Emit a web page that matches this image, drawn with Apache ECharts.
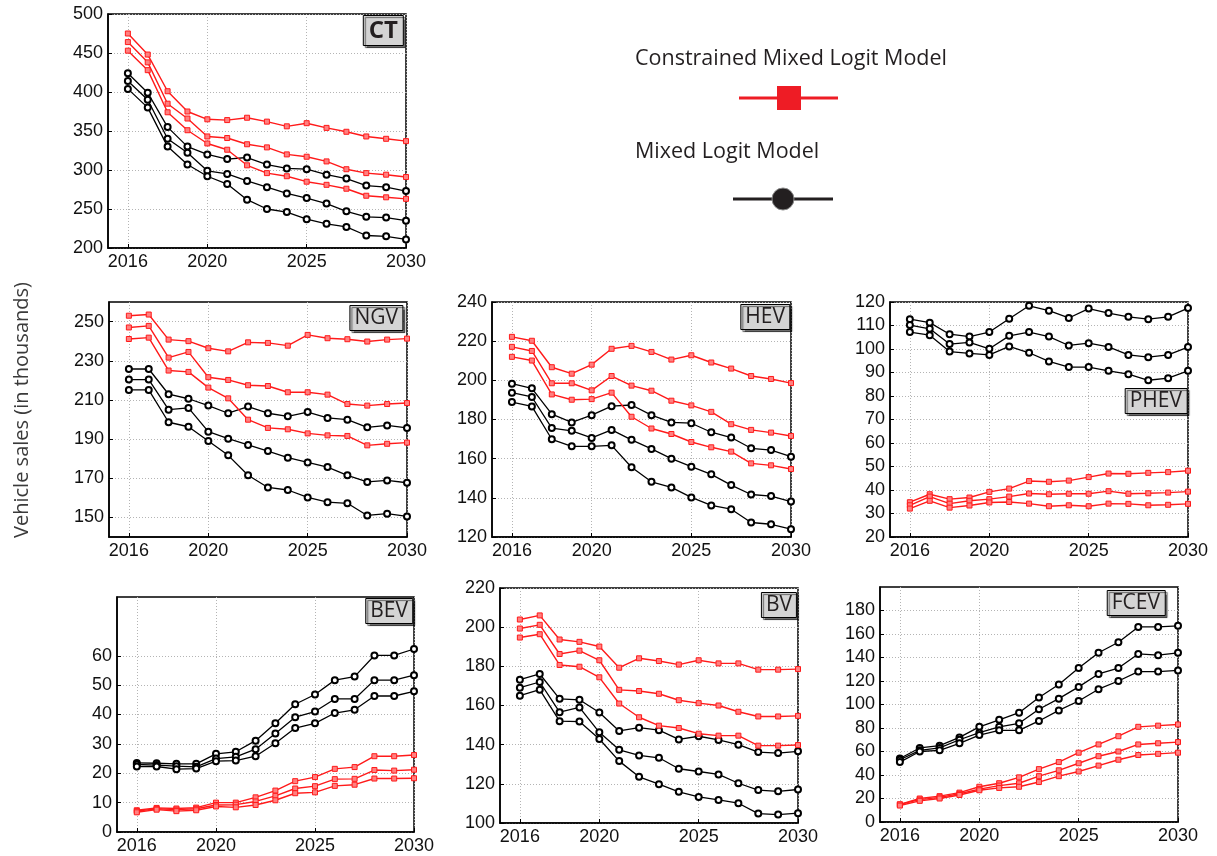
<!DOCTYPE html>
<html>
<head>
<meta charset="utf-8">
<title>Vehicle sales projections</title>
<script src="https://cdn.jsdelivr.net/npm/echarts@6/dist/echarts.min.js"></script>
<style>
  html, body { margin: 0; padding: 0; background: #ffffff; }
  #chart { width: 1217px; height: 856px; }
</style>
</head>
<body>
<div id="chart"></div>
<script>
// ---- data (thousands of vehicles) ----
const YEARS = [2016, 2017, 2018, 2019, 2020, 2021, 2022, 2023, 2024, 2025, 2026, 2027, 2028, 2029, 2030];
const YEAR_TICKS = [2016, 2020, 2025, 2030];

// Constrained Mixed Logit Model (red) and Mixed Logit Model (black), three runs each
const CT_CONSTRAINED = [
  [475, 448, 401, 375, 365, 364, 367, 362, 356, 360, 354, 349, 343, 340, 337],
  [464, 438, 385, 366, 343, 341, 333, 329, 320, 317, 311, 301, 296, 294, 291],
  [453, 428, 374, 351, 334, 326, 306, 296, 292, 285, 281, 276, 267, 265, 263]
];
const CT_MIXED = [
  [424, 399, 355, 330, 320, 314, 316, 307, 302, 301, 294, 289, 280, 278, 273],
  [414, 390, 340, 322, 299, 295, 286, 278, 270, 264, 257, 247, 240, 239, 235],
  [404, 380, 330, 307, 292, 282, 262, 250, 246, 237, 231, 227, 216, 215, 211]
];
const CT_TICKS = [200, 250, 300, 350, 400, 450, 500];

const NGV_CONSTRAINED = [
  [253, 253.6, 240.8, 240, 236.4, 234.8, 239.4, 239.1, 237.7, 243.2, 241.5, 241, 239.8, 240.8, 241.3],
  [247, 247.8, 231.6, 234.5, 221.6, 220.2, 217.5, 217.1, 213.9, 213.9, 212.7, 207.9, 207.1, 207.9, 208.4],
  [241.1, 241.8, 225, 224.3, 216.3, 210.8, 199.9, 195.7, 195, 192.9, 191.9, 191.6, 186.8, 187.6, 188.2]
];
const NGV_MIXED = [
  [225.8, 225.8, 212.9, 210.6, 207.1, 203.2, 206.6, 203.2, 201.6, 203.8, 200.8, 199.9, 196, 197, 195.7],
  [220.4, 220.4, 205, 205.9, 193.8, 190.2, 187, 183.9, 180.5, 178.1, 175.7, 171.5, 168.1, 168.9, 167.7],
  [215.1, 215.1, 198.6, 196.3, 189, 181.7, 171.5, 165.3, 164, 160.2, 157.8, 157.2, 151, 151.9, 150.5]
];
const NGV_TICKS = [150, 170, 190, 210, 230, 250];

const HEV_CONSTRAINED = [
  [222.2, 220.2, 206.7, 203.4, 208, 216.1, 217.6, 214.5, 210.6, 212.8, 209.1, 206, 202.2, 200.7, 198.6],
  [217.1, 215, 198.5, 198.5, 194.9, 202.2, 197.3, 194.7, 189.6, 187.2, 183.9, 177.6, 174.7, 173.3, 171.6],
  [212, 210.1, 192.8, 190.1, 190.4, 193.7, 181.4, 175.4, 172.6, 168.5, 165.8, 163.6, 157.6, 156.6, 154.7]
];
const HEV_MIXED = [
  [198.3, 195.9, 182.7, 178.5, 182.2, 186.8, 187.4, 182.2, 178.5, 178.1, 173.5, 170.8, 165.3, 164.4, 161],
  [193.7, 191.5, 175.6, 174.2, 170.6, 174.7, 169.6, 165, 160, 155.9, 152, 146.5, 141.7, 140.9, 138.1],
  [188.9, 186.7, 169.9, 166.3, 166.3, 166.8, 155.6, 148.2, 145.3, 140.2, 136.1, 134.2, 127.4, 126.5, 124]
];
const HEV_TICKS = [120, 140, 160, 180, 200, 220, 240];

const PHEV_CONSTRAINED = [
  [34.8, 38.2, 36.1, 36.8, 39.2, 40.6, 43.8, 43.5, 44, 45.5, 47, 46.9, 47.3, 47.6, 48.2],
  [33.5, 37.2, 34.2, 35.4, 36.1, 37.2, 38.5, 38.2, 38.4, 38.4, 39.5, 38.4, 38.6, 38.9, 39.3],
  [32.1, 35.4, 32.5, 33.4, 34.7, 34.9, 34.2, 33.1, 33.5, 33.1, 34.2, 34.1, 33.5, 33.7, 34.1]
];
const PHEV_MIXED = [
  [112.7, 111.2, 106.3, 105.3, 107.2, 112.9, 118.4, 116.3, 113.2, 117.2, 115.3, 113.7, 112.7, 113.7, 117.4],
  [110.2, 108.6, 102.1, 102.8, 100.1, 105.6, 107.2, 105.3, 101.5, 102.5, 100.9, 97.5, 96.5, 97.5, 100.8],
  [107.2, 105.9, 98.9, 98.1, 97.5, 101.1, 98.4, 94.7, 92.3, 92.3, 90.7, 89.3, 86.7, 87.6, 90.7]
];
const PHEV_TICKS = [20, 30, 40, 50, 60, 70, 80, 90, 100, 110, 120];

const BEV_CONSTRAINED = [
  [7.4, 8.2, 8, 8.3, 10, 10, 11.8, 14.1, 17.3, 18.7, 21.5, 22.1, 25.8, 25.8, 26.2],
  [7.1, 7.9, 7.6, 7.9, 9.2, 9.3, 10.4, 12.3, 14.8, 15.6, 18, 18.1, 21.1, 20.9, 21.2],
  [6.7, 7.6, 7.1, 7.4, 8.7, 8.4, 9.2, 10.8, 13.2, 13.5, 15.7, 16.1, 18.2, 18.2, 18.3]
];
const BEV_MIXED = [
  [23.5, 23.4, 23.2, 23.2, 26.6, 27.3, 31.1, 37, 43.5, 46.8, 51.7, 52.9, 60.1, 60.1, 62.3],
  [23, 22.8, 22.4, 22.2, 25, 25.6, 28.2, 33.5, 39.1, 41, 45.3, 45.3, 51.7, 51.7, 53.4],
  [22.3, 22.3, 21.4, 21.6, 24.1, 24.3, 25.8, 30.2, 35.4, 37, 40.5, 41.6, 46.3, 46.3, 47.9]
];
const BEV_TICKS = [0, 10, 20, 30, 40, 50, 60];

const BV_CONSTRAINED = [
  [203.9, 206, 193.7, 192.5, 190.1, 179.3, 184.1, 182.7, 180.9, 183.1, 181.5, 181.5, 178.3, 178.3, 178.6],
  [199.3, 201.2, 186.3, 188, 183.1, 168, 167.4, 166, 162.7, 161.2, 160, 156.8, 154.4, 154.4, 154.7],
  [194.7, 196.4, 180.7, 179.8, 174.4, 161, 154, 149.7, 148.5, 145.6, 144.6, 144.6, 139.5, 139.5, 139.8]
];
const BV_MIXED = [
  [173.2, 176.1, 163.4, 162.9, 156.4, 147, 148.7, 147.4, 142.7, 144.3, 142.4, 140, 136.2, 135.7, 136.6],
  [169.1, 172, 156.6, 159, 146.3, 137.4, 134.5, 133.3, 127.7, 126.3, 124.8, 120.3, 116.8, 116.2, 117.1],
  [165, 168.1, 152, 151.8, 142.9, 131.6, 123.6, 119.8, 115.9, 113.3, 111.8, 110.1, 104.8, 104.3, 105]
];
const BV_TICKS = [100, 120, 140, 160, 180, 200, 220];

const FCEV_CONSTRAINED = [
  [15, 20, 22, 25, 30, 33, 38, 45, 51, 59, 66, 73, 81, 82, 83],
  [15, 19, 21, 24, 28, 31, 33, 39, 44, 50, 56, 60, 66, 67, 68],
  [14, 18, 20, 23, 27, 29, 30, 34, 39, 43, 48, 53, 57, 58, 59]
];
const FCEV_MIXED = [
  [54, 63, 65, 72, 81, 87, 93, 106, 117, 131, 144, 153, 166, 166, 167],
  [53, 61, 63, 70, 76, 81, 84, 96, 105, 115, 126, 131, 143, 142, 144],
  [51, 60, 61, 67, 74, 78, 78, 86, 95, 103, 113, 120, 128, 128, 129]
];
const FCEV_TICKS = [0, 20, 40, 60, 80, 100, 120, 140, 160, 180];

const SERIES_NAMES = ['Constrained Mixed Logit Model', 'Mixed Logit Model'];
const Y_AXIS_TITLE = 'Vehicle sales (in thousands)';

const PANELS = [
  { key: 'CT',   constrained: CT_CONSTRAINED,   mixed: CT_MIXED,   ticks: CT_TICKS,   yMin: 200, yMax: 500 },
  { key: 'NGV',  constrained: NGV_CONSTRAINED,  mixed: NGV_MIXED,  ticks: NGV_TICKS,  yMin: 140, yMax: 260 },
  { key: 'HEV',  constrained: HEV_CONSTRAINED,  mixed: HEV_MIXED,  ticks: HEV_TICKS,  yMin: 120, yMax: 240 },
  { key: 'PHEV', constrained: PHEV_CONSTRAINED, mixed: PHEV_MIXED, ticks: PHEV_TICKS, yMin: 20,  yMax: 120 },
  { key: 'BEV',  constrained: BEV_CONSTRAINED,  mixed: BEV_MIXED,  ticks: BEV_TICKS,  yMin: 0,   yMax: 80 },
  { key: 'BV',   constrained: BV_CONSTRAINED,   mixed: BV_MIXED,   ticks: BV_TICKS,   yMin: 100, yMax: 220 },
  { key: 'FCEV', constrained: FCEV_CONSTRAINED, mixed: FCEV_MIXED, ticks: FCEV_TICKS, yMin: 0,   yMax: 200 }
];

// ---- layout (pixels) ----
const LAYOUT = {
  CT:   { left: 108, top: 14,  width: 298, height: 234, tagRight: 404,  tagTop: 15,  bold: true },
  NGV:  { left: 109, top: 302, width: 298, height: 235, tagRight: 403,  tagTop: 305 },
  HEV:  { left: 492, top: 302, width: 299, height: 235, tagRight: 790,  tagTop: 304 },
  PHEV: { left: 890, top: 302, width: 298, height: 235, tagRight: 1187, tagTop: 388 },
  BEV:  { left: 117, top: 597, width: 297, height: 235, tagRight: 413,  tagTop: 598 },
  BV:   { left: 500, top: 588, width: 298, height: 235, tagRight: 797,  tagTop: 592 },
  FCEV: { left: 880, top: 587, width: 298, height: 235, tagRight: 1165, tagTop: 590 }
};

const RED = '#ff1a1a';
const BLACK = '#000000';
const CHART_W = 1217;

const grids = [], xAxes = [], yAxes = [], titles = [], series = [];

PANELS.forEach((p, i) => {
  const g = LAYOUT[p.key];
  grids.push({
    left: g.left, top: g.top, width: g.width, height: g.height,
    show: true, borderColor: '#000', borderWidth: 1.5, backgroundColor: '#fff'
  });
  xAxes.push({
    type: 'value', gridIndex: i, min: 2015, max: 2030,
    axisLine: { show: true, onZero: false, lineStyle: { color: '#000', width: 1.5 } },
    axisTick: { show: true, inside: true, length: 4, customValues: YEAR_TICKS, lineStyle: { color: '#000' } },
    axisLabel: {
      customValues: YEAR_TICKS, color: '#111', fontFamily: 'Liberation Sans, Arial, sans-serif',
      fontSize: 18, margin: 5, formatter: v => String(v)
    },
    splitLine: { show: true, lineStyle: { color: '#b4b4b4', type: [1, 2], width: 1 } }
  });
  yAxes.push({
    type: 'value', gridIndex: i, min: p.yMin, max: p.yMax,
    axisLine: { show: true, onZero: false, lineStyle: { color: '#000', width: 1.5 } },
    axisTick: { show: true, inside: true, length: 4, customValues: p.ticks, lineStyle: { color: '#000' } },
    axisLabel: {
      customValues: p.ticks, color: '#111', fontFamily: 'Liberation Sans, Arial, sans-serif',
      fontSize: 18, margin: 5, formatter: v => String(v)
    },
    splitLine: { show: true, lineStyle: { color: '#b4b4b4', type: [1, 2], width: 1 } }
  });
  titles.push({
    text: p.key,
    right: CHART_W - g.tagRight, top: g.tagTop,
    backgroundColor: '#d4d4d4', borderColor: '#000', borderWidth: 1,
    shadowColor: 'rgba(0,0,0,0.55)', shadowBlur: 1, shadowOffsetX: 2, shadowOffsetY: 2,
    padding: g.bold ? [3, 6, 2, 6] : [1, 5, 0, 5],
    textStyle: {
      fontFamily: 'Open Sans, Noto Sans, sans-serif', fontSize: g.bold ? 24 : 21,
      fontWeight: g.bold ? 'bold' : 'normal', color: '#231f20', lineHeight: g.bold ? 26 : 25
    }
  });
  p.constrained.forEach(vals => {
    series.push({
      name: SERIES_NAMES[0], type: 'line', xAxisIndex: i, yAxisIndex: i,
      data: YEARS.map((y, k) => [y, vals[k]]),
      symbol: 'rect', symbolSize: 5, z: 3,
      lineStyle: { color: RED, width: 1.4 },
      itemStyle: { color: '#ff8080', borderColor: RED, borderWidth: 1 }
    });
  });
  p.mixed.forEach(vals => {
    series.push({
      name: SERIES_NAMES[1], type: 'line', xAxisIndex: i, yAxisIndex: i,
      data: YEARS.map((y, k) => [y, vals[k]]),
      symbol: 'emptyCircle', symbolSize: 6, z: 2,
      lineStyle: { color: BLACK, width: 1.3 },
      itemStyle: { color: BLACK, borderColor: BLACK, borderWidth: 1 }
    });
  });
});

// legend block and shared axis title
const legendFont = 'Open Sans, Noto Sans, sans-serif';
const graphics = [
  { type: 'text', left: 635, top: 48, style: { text: SERIES_NAMES[0], font: '21.5px ' + legendFont, fill: '#231f20' } },
  { type: 'line', shape: { x1: 739, y1: 98, x2: 838, y2: 98 }, style: { stroke: '#ee1c25', lineWidth: 3 } },
  { type: 'rect', shape: { x: 777, y: 86, width: 24, height: 24 }, style: { fill: '#ee1c25' } },
  { type: 'text', left: 635, top: 141, style: { text: SERIES_NAMES[1], font: '21.5px ' + legendFont, fill: '#231f20' } },
  { type: 'line', shape: { x1: 733, y1: 199, x2: 833, y2: 199 }, style: { stroke: '#231f20', lineWidth: 3 } },
  { type: 'circle', shape: { cx: 783, cy: 199, r: 11 }, style: { fill: '#231f20', stroke: '#8a8a8a', lineWidth: 1 } },
  {
    type: 'text', x: 22, y: 410, rotation: Math.PI / 2,
    style: { text: Y_AXIS_TITLE, font: '20px ' + legendFont, fill: '#3a3a3a', align: 'center', verticalAlign: 'middle' }
  }
];

const chart = echarts.init(document.getElementById('chart'));
chart.setOption({
  animation: false,
  backgroundColor: '#ffffff',
  title: titles,
  grid: grids,
  xAxis: xAxes,
  yAxis: yAxes,
  series: series,
  graphic: graphics
});
</script>
</body>
</html>
